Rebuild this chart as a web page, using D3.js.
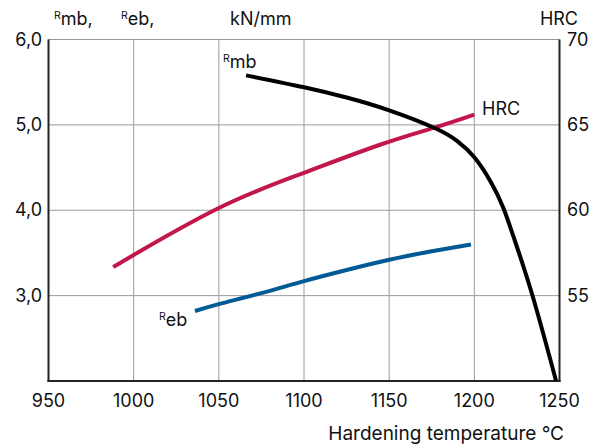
<!DOCTYPE html>
<html>
<head>
<meta charset="utf-8">
<script src="https://cdn.jsdelivr.net/npm/d3@7"></script>
<style>
  body { margin: 0; background: #fff; }
  svg { font-family: Inter, "Noto Sans", sans-serif; }
</style>
</head>
<body>
<div id="chart"></div>
<script>
// hardening temperature (°C) vs strength (kN/mm) and hardness (HRC)
var xTicks = [950, 1000, 1050, 1100, 1150, 1200, 1250];
var yTicks = [3, 4, 5, 6];
var hrcTicks = [55, 60, 65, 70];

var rmbTemp = [1066, 1100, 1125, 1150, 1177, 1190, 1200, 1210, 1217, 1223, 1234, 1248];
var rmbVal  = [5.58, 5.44, 5.32, 5.17, 4.96, 4.81, 4.62, 4.32, 4.03, 3.69, 3.01, 2.00];

var rebTemp = [1036, 1050, 1075, 1100, 1125, 1150, 1175, 1198];
var rebVal  = [2.82, 2.90, 3.03, 3.17, 3.30, 3.42, 3.52, 3.60];

var hrcTemp = [988, 1000, 1050, 1098, 1145, 1177, 1200];
var hrcVal  = [56.67, 57.38, 60.13, 62.12, 63.85, 64.85, 65.6];

var width = 610, height = 446;
var plotLeft = 48.5, plotRight = 559.5, plotTop = 39.5, plotBottom = 381;

var svg = d3.select('#chart').append('svg')
    .attr('width', width)
    .attr('height', height);

var x = d3.scaleLinear().domain([950, 1250]).range([plotLeft, plotRight]);
var y = d3.scaleLinear().domain([2, 6]).range([plotBottom, plotTop]);
var yHrc = d3.scaleLinear().domain([50, 70]).range([plotBottom, plotTop]);

// grid
svg.append('g').selectAll('line').data(xTicks.slice(1, -1)).enter().append('line')
    .attr('x1', function(d){ return x(d); })
    .attr('x2', function(d){ return x(d); })
    .attr('y1', plotTop).attr('y2', plotBottom)
    .attr('stroke', '#9a9a9a').attr('stroke-width', 1);
svg.append('g').selectAll('line').data(yTicks).enter().append('line')
    .attr('x1', plotLeft).attr('x2', plotRight)
    .attr('y1', function(d){ return y(d); })
    .attr('y2', function(d){ return y(d); })
    .attr('stroke', '#9a9a9a').attr('stroke-width', 1);

// axes frame
svg.append('line').attr('x1', plotLeft).attr('x2', plotLeft).attr('y1', plotTop).attr('y2', plotBottom + 1)
    .attr('stroke', '#222').attr('stroke-width', 2);
svg.append('line').attr('x1', plotRight).attr('x2', plotRight).attr('y1', plotTop).attr('y2', plotBottom + 1)
    .attr('stroke', '#222').attr('stroke-width', 2);
svg.append('line').attr('x1', plotLeft - 1).attr('x2', plotRight + 1).attr('y1', plotBottom).attr('y2', plotBottom)
    .attr('stroke', '#222').attr('stroke-width', 2);

// tick labels
svg.append('g').selectAll('text').data(xTicks).enter().append('text')
    .attr('x', function(d){ return x(d); })
    .attr('y', 407)
    .attr('text-anchor', 'middle')
    .attr('font-size', '18px')
    .attr('fill', '#111')
    .text(function(d){ return d; });
svg.append('g').selectAll('text').data(yTicks).enter().append('text')
    .attr('x', 42)
    .attr('y', function(d){ return y(d) + 6; })
    .attr('text-anchor', 'end')
    .attr('font-size', '18px')
    .attr('fill', '#111')
    .text(function(d){ return d.toFixed(1).replace('.', ','); });
svg.append('g').selectAll('text').data(hrcTicks).enter().append('text')
    .attr('x', 567)
    .attr('y', function(d){ return yHrc(d) + 6; })
    .attr('font-size', '18px')
    .attr('fill', '#111')
    .text(function(d){ return d; });

// curves
var line = d3.line().curve(d3.curveNatural);

function curve(xs, vs, scale, color){
    svg.append('path')
        .attr('d', line(xs.map(function(t, i){ return [x(t), scale(vs[i])]; })))
        .attr('fill', 'none')
        .attr('stroke', color)
        .attr('stroke-width', 4);
}
curve(hrcTemp, hrcVal, yHrc, '#c2174b');
curve(rebTemp, rebVal, y, '#005a96');
curve(rmbTemp, rmbVal, y, '#000');

// labels
function label(px, py, sup, main, anchor, size){
    var t = svg.append('text')
        .attr('x', px).attr('y', py)
        .attr('font-size', size || '18px')
        .attr('fill', '#111')
        .attr('text-anchor', anchor || 'start');
    if (sup) t.append('tspan').attr('font-size', '10.5px').attr('dy', -6).text(sup);
    t.append('tspan').attr('dy', sup ? 6 : 0).text(main);
}
label(54, 25, 'R', 'mb,');
label(121, 25, 'R', 'eb,');
label(230, 25, null, 'kN/mm');
label(578, 25, null, 'HRC', 'end');
label(223, 68, 'R', 'mb');
label(482, 115, null, 'HRC');
label(159, 326, 'R', 'eb');
label(564, 440, null, 'Hardening temperature °C', 'end', '19px');
</script>
</body>
</html>
